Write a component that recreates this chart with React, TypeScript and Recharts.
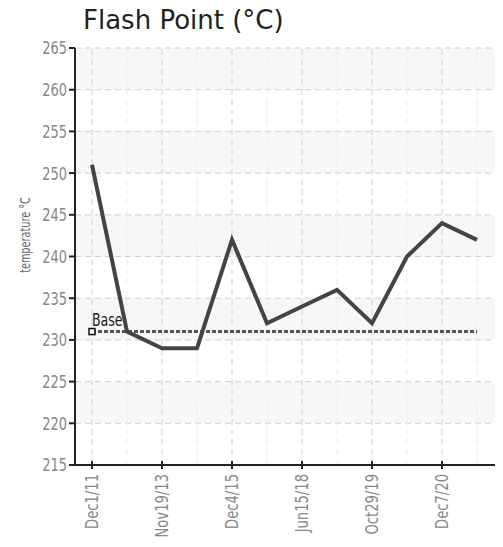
import { LineChart, Line, XAxis, YAxis, CartesianGrid, ReferenceLine, ReferenceDot, Label } from 'recharts';

const dates = ['Dec1/11', 'Jun5/12', 'Nov19/13', 'Oct2/14', 'Dec4/15', 'Jul11/16', 'Jun15/18', 'Jan22/19', 'Oct29/19', 'Mar3/20', 'Dec7/20', 'May18/21'];
const flashPoint = [251, 231, 229, 229, 242, 232, 234, 236, 232, 240, 244, 242];
const yTicks = [215, 220, 225, 230, 235, 240, 245, 250, 255, 260, 265];
const baseValue = 231;

const data = dates.map((date, i) => ({ date, flash: flashPoint[i] }));

// no narrow font installed, so squeeze DejaVu horizontally
function NarrowText({ x, y, rotate = 0, anchor = 'start', size, fill, squeeze = 0.72, children }: any) {
    return (
        <text transform={`translate(${x} ${y}) rotate(${rotate}) scale(${squeeze} 1)`} textAnchor={anchor}
            dy="0.36em" fill={fill} fontSize={size} fontFamily="'DejaVu Sans', sans-serif">
            {children}
        </text>
    );
}

function DateTick(props: any) {
    const { x, y, payload } = props;
    if (payload.index % 2 === 1) return <g />;
    return (
        <g>
            <line x1={x} x2={x} y1={y - 4} y2={y + 4} stroke="#222" strokeWidth={2} />
            <NarrowText x={x} y={y + 9} rotate={-90} anchor="end" size={18} squeeze={0.73} fill="#888">{payload.value}</NarrowText>
        </g>
    );
}

function TempTick(props: any) {
    const { x, y, payload } = props;
    return <NarrowText x={x} y={y} anchor="end" size={18} fill="#888">{payload.value}</NarrowText>;
}

function BaseMarker(props: any) {
    const { cx, cy } = props;
    return (
        <g>
            <rect x={cx - 3} y={cy - 3} width={6} height={6} fill="#fff" stroke="#111" strokeWidth={1.5} />
            <NarrowText x={cx} y={cy - 12} size={17} squeeze={0.74} fill="#222">Base</NarrowText>
        </g>
    );
}

export default function App() {
    return (
        <div style={{ position: 'relative', margin: -8, width: 503, height: 547, background: '#fff' }}>
            <div style={{ position: 'absolute', left: 83, top: 5, fontSize: 26, color: '#222', fontFamily: "'DejaVu Sans', sans-serif", lineHeight: '30px' }}>
                Flash Point (°C)
            </div>
            <LineChart width={503} height={547} data={data} margin={{ top: 48, right: 8, left: 0, bottom: 0 }}>
                <CartesianGrid vertical={false} stroke="#d0d0d0" strokeDasharray="6 4" horizontalFill={['#f7f7f7', '#ffffff']} />
                {dates.map((d, i) => (
                    <ReferenceLine key={d} x={d} stroke={i % 2 === 0 ? '#d0d0d0' : '#ececec'} strokeDasharray="6 4" />
                ))}
                <XAxis dataKey="date" interval={0} tick={<DateTick />} tickLine={false} tickSize={0} tickMargin={0}
                    padding={{ left: 17, right: 18 }} height={82} axisLine={{ stroke: '#222', strokeWidth: 2 }} />
                <YAxis domain={[215, 265]} ticks={yTicks} width={75} interval={0}
                    tick={<TempTick />} tickSize={6} tickMargin={2}
                    tickLine={{ stroke: '#222', strokeWidth: 2 }} axisLine={{ stroke: '#222', strokeWidth: 2 }}>
                    <Label content={() => (
                        <NarrowText x={25} y={235} rotate={-90} anchor="middle" size={13.5} fill="#666">temperature °C</NarrowText>
                    )} />
                </YAxis>
                <ReferenceLine segment={[{ x: dates[0], y: baseValue }, { x: dates[dates.length - 1], y: baseValue }]}
                    stroke="#555" strokeWidth={3} strokeDasharray="4 2" />
                <Line dataKey="flash" stroke="#444" strokeWidth={4} dot={false} activeDot={false} isAnimationActive={false} />
                <ReferenceDot x={dates[0]} y={baseValue} r={3} shape={<BaseMarker />} />
            </LineChart>
        </div>
    );
}
